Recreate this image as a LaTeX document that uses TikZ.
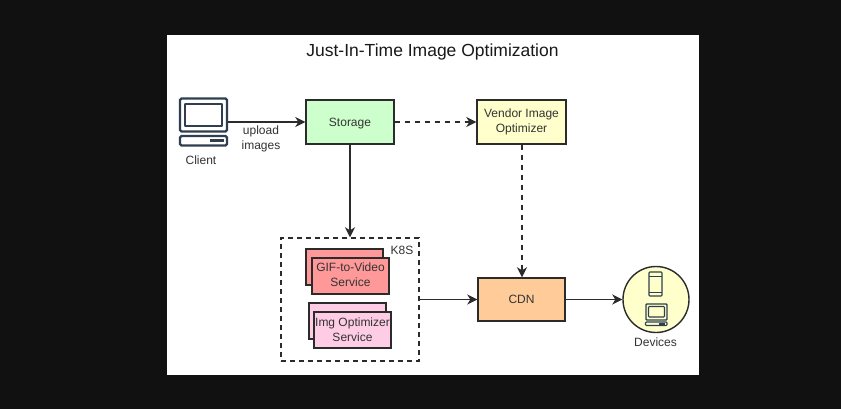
\documentclass[tikz,border=0pt]{standalone}
\usepackage{fontspec}
\setmainfont{Liberation Sans}
\usetikzlibrary{arrows.meta}
\definecolor{ink}{HTML}{2B2B2B}
\definecolor{slate}{HTML}{2F3F50}
\definecolor{txt}{HTML}{333333}
\newcommand{\lift}[1]{\rule[-#1pt]{0pt}{0pt}}
\newcommand{\dropby}[1]{\rule{0pt}{#1pt}}
\tikzset{
  box/.style={draw=ink,line width=1.4pt,inner sep=0pt,align=center,text=txt,font=\fontsize{12}{15}\selectfont},
  label/.style={text=txt,inner sep=0pt,align=center,font=\fontsize{12}{15}\selectfont},
  conn/.style={draw=ink,line width=1.5pt,-{Stealth[length=10pt,width=10pt,inset=3pt]}},
  dconn/.style={conn,dash pattern=on 5pt off 5pt},
  icon/.style={draw=slate,line width=2.4pt,rounded corners=1.5pt},
  iconthin/.style={draw=slate,line width=1.1pt,rounded corners=0.8pt}
}
\begin{document}
\begin{tikzpicture}[x=1pt,y=-1pt]
\useasboundingbox[fill={rgb,255:red,17;green,17;blue,18}] (0,0) rectangle (841,409);
\fill[white] (167,35) rectangle (699,375);
\node[text=black!90,inner sep=0pt,font=\fontsize{17.5}{20}\selectfont] (title) at (432.5,51.5) {Just-In-Time Image Optimization};

% client icon
\node[icon,fill=white,minimum width=47pt,minimum height=33pt,inner sep=0pt] (client) at (203.5,115) {};
\draw[icon,line width=1.8pt,rounded corners=0.5pt] (185,104) rectangle (222,126);
\draw[icon,fill=white] (180,136) rectangle (227,145.5);
\fill[slate] (210,139) rectangle (224,142.5);
\node[label] (clientl) at (201,160) {Client};

% boxes
\node[box,fill={rgb,255:red,204;green,255;blue,204},minimum width=88pt,minimum height=44pt] (storage) at (350,122) {\dropby{10.6}Storage};
\node[box,fill={rgb,255:red,255;green,255;blue,204},minimum width=89pt,minimum height=44pt] (vendor) at (521.5,122) {Vendor Image\\Optimizer};
\node[box,fill={rgb,255:red,255;green,204;blue,153},minimum width=87pt,minimum height=43pt] (cdn) at (521.5,299.5) {CDN};
\node[draw=ink,line width=1.4pt,dash pattern=on 5pt off 4pt,minimum width=138pt,minimum height=123pt,inner sep=0pt] (k8s) at (350,299.5) {};
\node[label] (k8sl) at (402,250) {K8S};

\node[box,fill={rgb,255:red,255;green,153;blue,153},minimum width=77pt,minimum height=36pt] (gifb) at (344.5,267) {};
\node[box,fill={rgb,255:red,255;green,153;blue,153},minimum width=77pt,minimum height=36pt] (gif) at (350.5,276) {GIF-to-Video\\Service\lift{3}};
\node[box,fill={rgb,255:red,255;green,204;blue,230},minimum width=77pt,minimum height=36pt] (imgb) at (347.5,321) {};
\node[box,fill={rgb,255:red,255;green,204;blue,230},minimum width=77pt,minimum height=36pt] (img) at (352.5,330) {Img Optimizer\\Service};

% devices
\node[draw=ink,line width=1.4pt,fill={rgb,255:red,255;green,255;blue,204},circle,minimum size=66pt,inner sep=0pt] (dev) at (656,299.5) {};
\node[iconthin,minimum width=13pt,minimum height=24pt,inner sep=0pt] (phone) at (655.5,284) {};
\draw[slate,line width=0.7pt] (649,276) -- (662,276);
\draw[slate,line width=0.7pt] (649,292.5) -- (662,292.5);
\node[iconthin,line width=1.4pt,minimum width=21pt,minimum height=16pt,inner sep=0pt] (laptop) at (656.5,312) {};
\draw[iconthin] (648.5,306.5) rectangle (664.5,317);
\draw[iconthin] (645.5,322) rectangle (667,325.5);
\fill[slate] (659,323) rectangle (665,324.5);
\node[label] (devl) at (655.5,342) {Devices};

% connectors
\draw[conn] (client.east |- storage.west) -- (storage.west);
\draw[dconn] (storage.east) -- (vendor.west);
\draw[conn] (storage.south) -- (k8s.north -| storage.south);
\draw[dconn] ([xshift=.5pt]vendor.south) -- ([xshift=.5pt]cdn.north);
\draw[conn] (k8s.east) -- (cdn.west);
\draw[conn] (cdn.east) -- (dev.west);
\node[label] (upl) at (261,138.5) {upload\\images};
\end{tikzpicture}
\end{document}
